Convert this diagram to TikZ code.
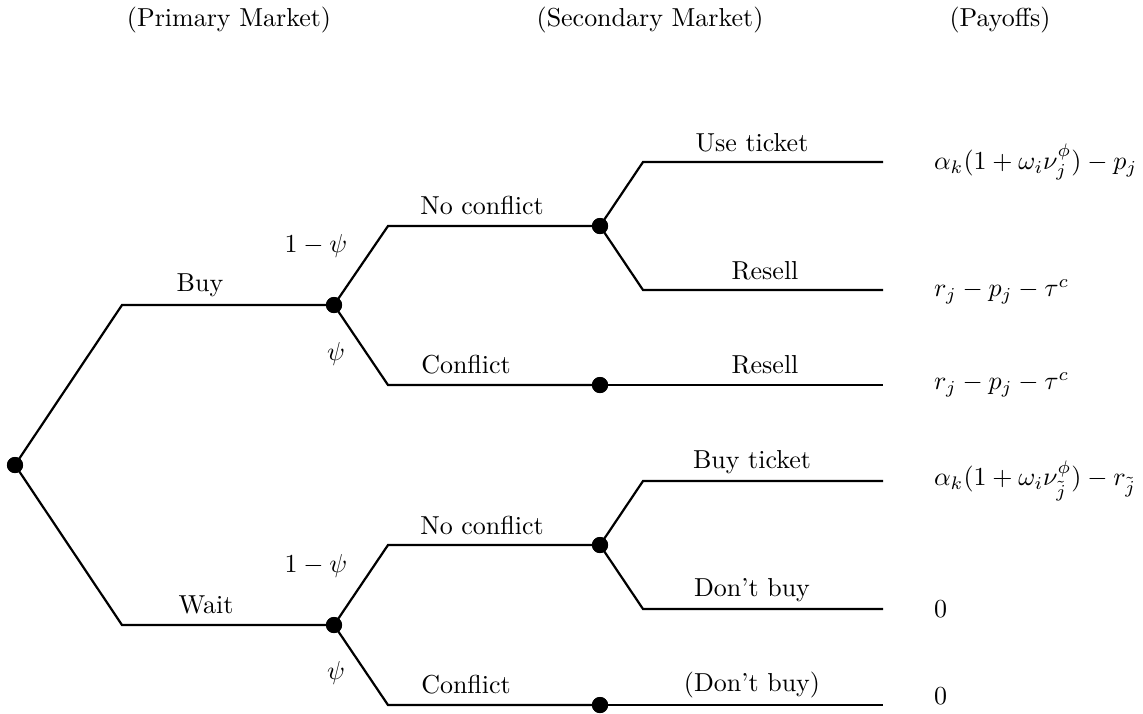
\documentclass[tikz,border=0pt]{standalone}
\begin{document}
\begin{tikzpicture}[x=0.385pt,y=-0.385pt,line width=0.85pt,
  dot/.style={circle,fill,inner sep=0pt,minimum size=6.2pt},
  lbl/.style={inner sep=0pt,anchor=center},
  pay/.style={inner sep=0pt,anchor=west}]
\useasboundingbox (0,0) rectangle (1143,713);
% headers
\node[lbl] (h1) at (229,20) {(Primary Market)};
\node[lbl] (h2) at (650,20) {(Secondary Market)};
\node[lbl] (h3) at (1000,20) {(Payoffs)};
% decision nodes
\node[dot] (r) at (15,465) {};
\node[dot] (b) at (334,305) {};
\node[dot] (w) at (334,625) {};
\node[dot] (bn) at (600,226) {};
\node[dot] (bc) at (600,385) {};
\node[dot] (wn) at (600,545) {};
\node[dot] (wc) at (600,705) {};
% bends and ends
\coordinate (rb) at (122,305);
\coordinate (rw) at (122,625);
\coordinate (bnb) at (388,226);
\coordinate (bcb) at (388,385);
\coordinate (wnb) at (388,545);
\coordinate (wcb) at (388,705);
\coordinate (u1) at (643,162);
\coordinate (u1e) at (883,162);
\coordinate (u2) at (643,290);
\coordinate (u2e) at (883,290);
\coordinate (u3e) at (883,385);
\coordinate (l1) at (643,481);
\coordinate (l1e) at (883,481);
\coordinate (l2) at (643,609);
\coordinate (l2e) at (883,609);
\coordinate (l3e) at (883,705);
% edges
\draw (r.center) -- (rb) -- (b.center);
\draw (r.center) -- (rw) -- (w.center);
\draw (b.center) -- (bnb) -- (bn.center);
\draw (b.center) -- (bcb) -- (bc.center);
\draw (w.center) -- (wnb) -- (wn.center);
\draw (w.center) -- (wcb) -- (wc.center);
\draw (bn.center) -- (u1) -- (u1e);
\draw (bn.center) -- (u2) -- (u2e);
\draw (bc.center) -- (u3e);
\draw (wn.center) -- (l1) -- (l1e);
\draw (wn.center) -- (l2) -- (l2e);
\draw (wc.center) -- (l3e);
% redraw dots on top
\foreach \n in {r,b,w,bn,bc,wn,wc} \fill (\n) circle (3.1pt);
% branch labels
\node[lbl] (tbuy) at (200,285) {Buy};
\node[lbl] (twait) at (206,605) {Wait};
\node[lbl] (p1) at (316,246) {$1-\psi$};
\node[lbl] (p2) at (336,354) {$\psi$};
\node[lbl] (p3) at (316,566) {$1-\psi$};
\node[lbl] (p4) at (336,673) {$\psi$};
\node[lbl] (nc1) at (482,205) {No conflict};
\node[lbl] (c1) at (466,365) {Conflict};
\node[lbl] (nc2) at (482,525) {No conflict};
\node[lbl] (c2) at (466,685) {Conflict};
\node[lbl] (a1) at (752,143) {Use ticket};
\node[lbl] (a2) at (765,271) {Resell};
\node[lbl] (a3) at (765,365) {Resell};
\node[lbl] (a4) at (752,462) {Buy ticket};
\node[lbl] (a5) at (752,590) {Don't buy};
\node[lbl] (a6) at (752,685) {(Don't buy)};
% payoffs
\node[pay] (y1) at (933,162) {$\alpha_k(1+\omega_i\nu_j^{\phi})-p_j$};
\node[pay] (y2) at (933,292) {$r_j-p_j-\tau^c$};
\node[pay] (y3) at (933,385) {$r_j-p_j-\tau^c$};
\node[pay] (y4) at (933,481) {$\alpha_k(1+\omega_i\nu_{\tilde{j}}^{\phi})-r_{\tilde{j}}$};
\node[pay] (y5) at (933,609) {$0$};
\node[pay] (y6) at (933,696) {$0$};
\end{tikzpicture}
\end{document}
